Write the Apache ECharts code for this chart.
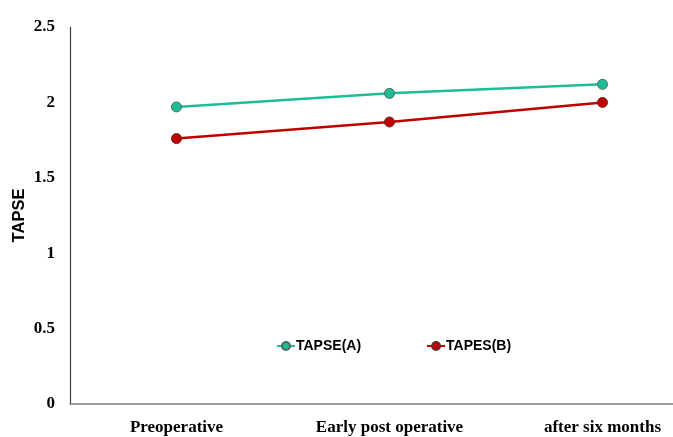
<!DOCTYPE html>
<html><head><meta charset="utf-8">
<script src="https://cdn.jsdelivr.net/npm/echarts@6/dist/echarts.min.js"></script>
<style>html,body{margin:0;padding:0;background:#fff}#c{width:673px;height:437px}</style>
</head><body><div id="c"></div>
<script>
const categories = ['Preoperative', 'Early post operative', 'after six months'];
const tapseA = [1.97, 2.06, 2.12];
const tapesB = [1.76, 1.87, 2.0];
const yTicks = { min: 0, max: 2.5, interval: 0.5 };

const chart = echarts.init(document.getElementById('c'));
chart.setOption({
  animation: false,
  backgroundColor: '#fff',
  grid: { left: 70, right: -36, top: 27, bottom: 33, containLabel: false, outerBoundsMode: 'none' },
  legend: {
    top: 334, left: 271, itemGap: 65, itemWidth: 18, itemHeight: 10,
    textStyle: { fontFamily: 'Liberation Sans', fontWeight: 'bold', fontSize: 14, color: '#000', padding: [0,0,0,-4] },
    data: ['TAPSE(A)', 'TAPES(B)']
  },
  xAxis: {
    type: 'category', data: categories, boundaryGap: true,
    axisLine: { lineStyle: { color: '#7f7f7f', width: 1.5 } },
    axisTick: { show: false },
    axisLabel: { fontFamily: 'Liberation Serif', fontWeight: 'bold', fontSize: 17, color: '#000', margin: 15 }
  },
  yAxis: {
    type: 'value', min: yTicks.min, max: yTicks.max, interval: yTicks.interval,
    name: 'TAPSE', nameLocation: 'middle', nameGap: 42, nameMoveOverlap: false,
    nameTextStyle: { fontFamily: 'Liberation Sans', fontWeight: 'bold', fontSize: 16.5, color: '#000' },
    axisLine: { show: true, lineStyle: { color: '#404040', width: 1.2 } },
    axisTick: { show: false },
    splitLine: { show: false },
    axisLabel: { fontFamily: 'Liberation Serif', fontWeight: 'bold', fontSize: 17, color: '#000', margin: 15 }
  },
  series: [
    { name: 'TAPSE(A)', type: 'line', data: tapseA, symbol: 'circle', symbolSize: 10,
      lineStyle: { color: '#1DBE96', width: 2.5 },
      itemStyle: { color: '#1DBE96', borderColor: '#4a6b63', borderWidth: 1 } },
    { name: 'TAPES(B)', type: 'line', data: tapesB, symbol: 'circle', symbolSize: 10,
      lineStyle: { color: '#C00000', width: 2.5 },
      itemStyle: { color: '#C00000', borderColor: '#6b2a2a', borderWidth: 1 } }
  ]
});
</script></body></html>
